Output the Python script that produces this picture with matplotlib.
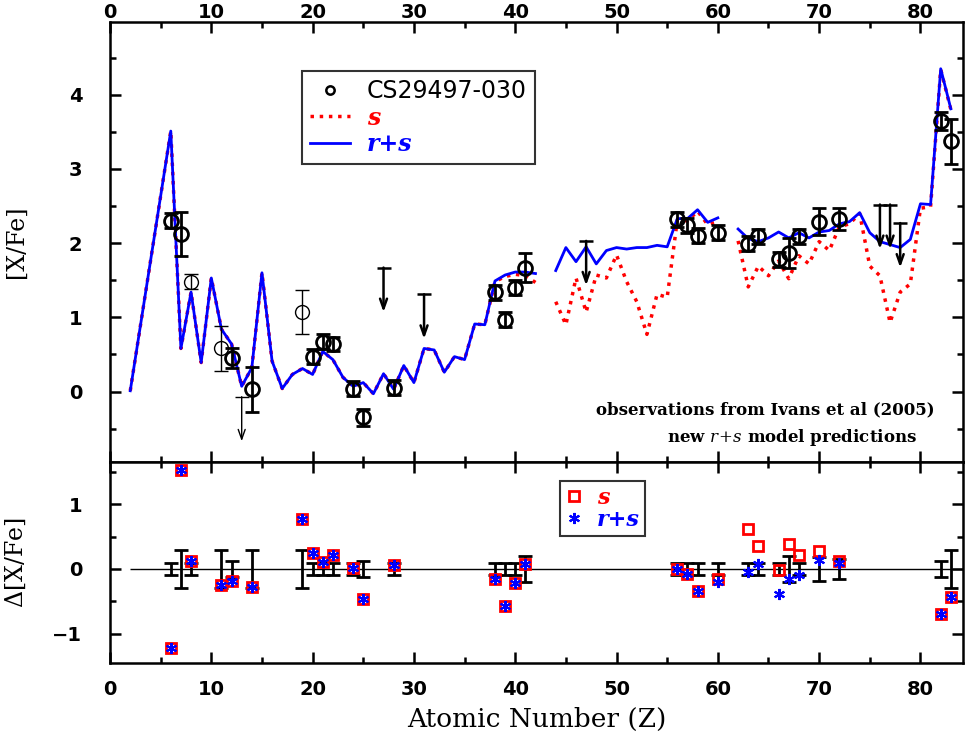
import numpy as np
import matplotlib
matplotlib.use('Agg')
import matplotlib.pyplot as plt
from matplotlib.lines import Line2D
from matplotlib.ticker import MultipleLocator

plt.rcParams['font.family'] = 'DejaVu Sans'
plt.rcParams['mathtext.fontset'] = 'dejavuserif'

nan = np.nan

# model predictions vs atomic number (nan = gap in the model curve)
model_z = [2] + list(range(6, 84))
model_rs = [0.01,
            3.51, 0.58, 1.34, 0.39, 1.53, 0.84, 0.64, 0.07, 0.32, 1.60,
            0.41, 0.04, 0.23, 0.31, 0.23, 0.54, 0.43, 0.19, 0.07, 0.12,
            -0.03, 0.24, 0.03, 0.35, 0.12, 0.58, 0.56, 0.26, 0.47, 0.43,
            0.91, 0.90, 1.49, 1.57, 1.61, 1.61, 1.59, nan, 1.63, 1.94,
            1.75, 1.95, 1.72, 1.90, 1.94, 1.92, 1.94, 1.94, 1.97, 1.95,
            2.33, 2.33, 2.45, 2.28, 2.34, nan, 2.19, 2.06, 2.02, 2.07,
            2.15, 2.07, 2.14, 2.07, 2.15, 2.17, 2.26, 2.29, 2.41, 2.14,
            2.02, 1.98, 1.94, 2.05, 2.53, 2.52, 4.35, 3.81]
model_s = [0.01,
           3.51, 0.58, 1.34, 0.39, 1.53, 0.84, 0.64, 0.07, 0.32, 1.60,
           0.41, 0.04, 0.23, 0.31, 0.23, 0.54, 0.43, 0.19, 0.07, 0.12,
           -0.03, 0.24, 0.03, 0.35, 0.12, 0.58, 0.56, 0.26, 0.47, 0.43,
           0.91, 0.90, 1.48, 1.55, 1.58, 1.56, 1.47, nan, 1.21, 0.90,
           1.53, 1.07, 1.57, 1.53, 1.84, 1.48, 1.21, 0.77, 1.31, 1.27,
           2.31, 2.30, 2.43, 2.25, 2.29, nan, 2.03, 1.41, 1.69, 1.56,
           1.76, 1.52, 1.83, 1.72, 2.02, 1.90, 2.22, 2.26, 2.40, 1.69,
           1.56, 0.93, 1.34, 1.45, 2.47, 2.49, 4.34, 3.80]

# observations of CS29497-030 (Ivans et al 2005)
obs_z = [6, 7, 8, 11, 12, 14, 19, 20, 21, 22, 24, 25, 28, 38, 39, 40, 41,
         56, 57, 58, 60, 63, 64, 66, 67, 68, 70, 72, 82, 83]
obs_val = [2.30, 2.12, 1.48, 0.58, 0.45, 0.03, 1.07, 0.47, 0.67, 0.64, 0.04,
           -0.35, 0.05, 1.34, 0.97, 1.40, 1.67, 2.32, 2.24, 2.10, 2.14, 1.99,
           2.09, 1.78, 1.87, 2.09, 2.29, 2.32, 3.65, 3.37]
obs_err = [0.10, 0.30, 0.10, 0.30, 0.13, 0.30, 0.30, 0.10, 0.10, 0.10, 0.10,
           0.12, 0.10, 0.10, 0.10, 0.10, 0.20, 0.10, 0.10, 0.10, 0.10, 0.10,
           0.10, 0.10, 0.20, 0.10, 0.18, 0.15, 0.12, 0.30]
thin_z = [8, 11, 19]

# upper limits
lim_z = [13, 27, 31, 47, 76, 77, 78]
lim_val = [-0.07, 1.67, 1.31, 2.03, 2.52, 2.52, 2.27]

# residuals (obs - model)
delta_s = [-1.22, 1.52, 0.12, -0.25, -0.18, -0.28, 0.77, 0.25, 0.11, 0.21,
           0.02, -0.46, 0.06, -0.15, -0.57, -0.22, 0.07, 0.00, -0.07, -0.34,
           -0.15, 0.62, 0.36, -0.01, 0.38, 0.22, 0.27, 0.13, -0.69, -0.43]
delta_rs = [-1.22, 1.52, 0.12, -0.25, -0.18, -0.28, 0.77, 0.25, 0.11, 0.21,
            0.02, -0.46, 0.06, -0.15, -0.57, -0.22, 0.07, 0.00, -0.07, -0.34,
            -0.20, -0.05, 0.07, -0.38, -0.16, -0.09, 0.14, 0.09, -0.69, -0.43]

W, H = 965, 742
fig = plt.figure(figsize=(W / 100, H / 100), dpi=100)
left, right = 110 / W, 963 / W
ax1 = fig.add_axes([left, 1 - 462 / H, right - left, (462 - 22) / H])
ax2 = fig.add_axes([left, 1 - 663 / H, right - left, (663 - 462) / H])

for ax in (ax1, ax2):
    ax.set_xlim(0, 84.2)
    ax.xaxis.set_major_locator(MultipleLocator(10))
    ax.xaxis.set_minor_locator(MultipleLocator(5))
    ax.yaxis.set_major_locator(MultipleLocator(1))
    ax.yaxis.set_minor_locator(MultipleLocator(0.5))
    ax.tick_params(which='both', direction='in', top=True, right=True, width=1.8)
    ax.tick_params(which='major', length=8)
    ax.tick_params(which='minor', length=4.5)
    ax.tick_params(axis='y', pad=20, labelsize=14)
    for sp in ax.spines.values():
        sp.set_linewidth(1.8)

# top panel
ax1.set_ylim(-0.95, 4.98)
ax1.tick_params(axis='x', labeltop=True, labelbottom=False, pad=0, labelsize=14)
ax1.plot(model_z, model_s, color='red', ls=':', lw=2.5, zorder=2)
ax1.plot(model_z, model_rs, color='blue', ls='-', lw=2, zorder=3)

for z, v, e in zip(obs_z, obs_val, obs_err):
    lw = 1 if z in thin_z else 2
    ax1.errorbar(z, v, yerr=e, fmt='o', mfc='none', mec='k', ecolor='k',
                 ms=10, mew=lw, elinewidth=lw, capsize=5, capthick=lw, zorder=5)

for z, v in zip(lim_z, lim_val):
    lw = 1 if z == 13 else 1.8
    ax1.plot(z, v, marker='_', ms=10, mew=lw, color='k', zorder=5)
    ax1.annotate('', xy=(z, v - 0.6), xytext=(z, v),
                 arrowprops=dict(arrowstyle='->,head_length=0.7,head_width=0.25',
                                 lw=lw, color='k', shrinkA=0, shrinkB=0), zorder=5)

ax1.set_ylabel('[X/Fe]', family='DejaVu Serif', fontsize=17)
ax1.yaxis.set_label_coords(-0.096, 0.5)

handles = [Line2D([], [], ls='none', marker='o', mfc='none', mec='k', ms=6, mew=1.8),
           Line2D([], [], color='red', ls=':', lw=2.5),
           Line2D([], [], color='blue', ls='-', lw=2)]
leg = ax1.legend(handles, ['CS29497-030', 's', 'r+s'], loc='upper left',
                 bbox_to_anchor=(302 / W, 1 - 71 / H), bbox_transform=fig.transFigure,
                 borderaxespad=0, fontsize=17, frameon=True, fancybox=False,
                 handlelength=1.7, borderpad=0.35, labelspacing=0.1, handletextpad=0.7)
leg.get_frame().set_edgecolor('k')
leg.get_frame().set_linewidth(1.5)
txt = leg.get_texts()
for t, c in zip(txt[1:], ['red', 'blue']):
    t.set_color(c)
    t.set_fontstyle('italic')
    t.set_fontweight('bold')
    t.set_family('DejaVu Serif')

ax1.text(0.967, 0.118, 'observations from Ivans et al (2005)', transform=ax1.transAxes,
         ha='right', va='center', family='DejaVu Serif', fontweight='bold', fontsize=12)
ax1.text(0.80, 0.055, r'new $r\!+\!s$ model predictions', transform=ax1.transAxes,
         ha='center', va='center', family='DejaVu Serif', fontweight='bold', fontsize=12)

# bottom panel
ax2.set_ylim(-1.45, 1.65)
ax2.tick_params(axis='x', pad=12, labelsize=14)
ax2.hlines(0, model_z[0], 84.2, color='k', lw=1, zorder=1)
ax2.errorbar(obs_z, np.zeros(len(obs_z)), yerr=obs_err, fmt='none', ecolor='k',
             elinewidth=2, capsize=5, capthick=2, zorder=2)
ax2.plot(obs_z, delta_s, ls='none', marker='s', mfc='none', mec='red', ms=7, mew=2, zorder=3)
ax2.plot(obs_z, delta_rs, ls='none', marker=(6, 2, 0), color='blue', ms=8, mew=1.5, zorder=4)

ax2.set_ylabel(r'$\Delta$[X/Fe]', family='DejaVu Serif', fontsize=17)
ax2.yaxis.set_label_coords(-0.096, 0.5)
ax2.set_xlabel('Atomic Number (Z)', family='DejaVu Serif', fontsize=19, labelpad=6)

handles2 = [Line2D([], [], ls='none', marker='s', mfc='none', mec='red', ms=7, mew=2),
            Line2D([], [], ls='none', marker=(6, 2, 0), color='blue', ms=8, mew=1.5)]
leg2 = ax2.legend(handles2, ['s', 'r+s'], loc='upper left',
                  bbox_to_anchor=(560 / W, 1 - 481 / H), bbox_transform=fig.transFigure,
                  borderaxespad=0, fontsize=16, frameon=True, fancybox=False,
                  handlelength=0.8, borderpad=0.25, labelspacing=0.0, handletextpad=0.6)
leg2.get_frame().set_edgecolor('k')
leg2.get_frame().set_linewidth(1.5)
for t, c in zip(leg2.get_texts(), ['red', 'blue']):
    t.set_color(c)
    t.set_fontstyle('italic')
    t.set_fontweight('bold')
    t.set_family('DejaVu Serif')

for ax in (ax1, ax2):
    for lab in ax.get_xticklabels() + ax.get_yticklabels():
        lab.set_fontweight('bold')

fig.savefig('out.png', dpi=100)
